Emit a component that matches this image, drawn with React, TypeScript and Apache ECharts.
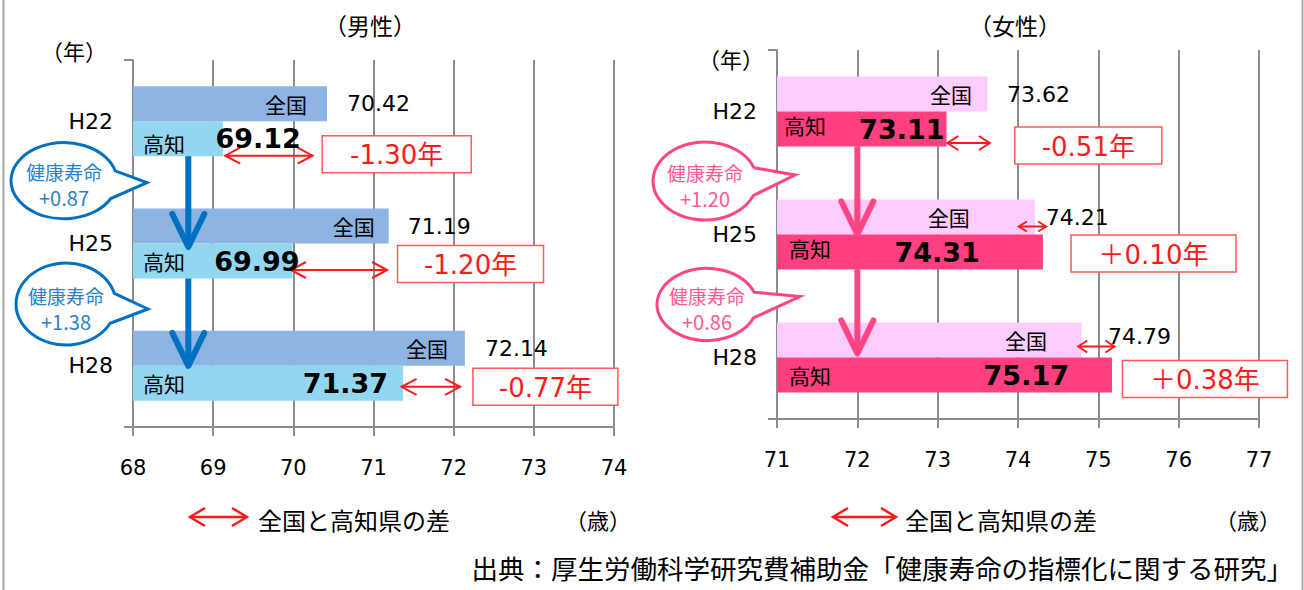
import React, { useEffect, useRef } from 'react';
import * as echarts from 'echarts';

// ---------- data ----------
const years = ['H22', 'H25', 'H28'];
const maleNational = [70.42, 71.19, 72.14];
const maleKochi = [69.12, 69.99, 71.37];
const femaleNational = [73.62, 74.21, 74.79];
const femaleKochi = [73.11, 74.31, 75.17];
const maleDiffLabels = ['-1.30年', '-1.20年', '-0.77年'];
const femaleDiffLabels = ['-0.51年', '＋0.10年', '＋0.38年'];
const maleGainLabels = ['+0.87', '+1.38'];
const femaleGainLabels = ['+1.20', '+0.86'];
const maleRange = [68, 74];
const femaleRange = [71, 77];

// ---------- styles ----------
const FONT_LATIN = "'DejaVu Sans', 'Noto Sans CJK JP', sans-serif";
const FONT_JP = "'Noto Sans CJK JP', sans-serif";
const GRID = '#8c8c8c';
const RED = '#ff1a1a';
const BOX = '#ff5a5a';

function bubblePath(rx: number, ry: number, tx: number, ty: number, a1d: number, a2d: number) {
  const a1 = (a1d * Math.PI) / 180;
  const a2 = (a2d * Math.PI) / 180;
  const p1 = [rx * Math.cos(a1), ry * Math.sin(a1)];
  const p2 = [rx * Math.cos(a2), ry * Math.sin(a2)];
  return `M${p1[0]} ${p1[1]} L${tx} ${ty} L${p2[0]} ${p2[1]} A${rx} ${ry} 0 1 1 ${p1[0]} ${p1[1]} Z`;
}

echarts.graphic.registerShape('bubbleM0', echarts.graphic.extendPath(bubblePath(53, 38, 83, 2, -15, 28), {}));
echarts.graphic.registerShape('bubbleM1', echarts.graphic.extendPath(bubblePath(50, 41, 82, 5, -15, 28), {}));
echarts.graphic.registerShape('bubbleF0', echarts.graphic.extendPath(bubblePath(52, 39, 90, -6, -20, 22), {}));
echarts.graphic.registerShape('bubbleF1', echarts.graphic.extendPath(bubblePath(50, 36, 93, -8, -20, 22), {}));

const panels = [
  {
    grid: 0,
    title: '（男性）',
    titleX: 370,
    titleY: 25,
    nenY: 50,
    nenX: 74,
    range: maleRange,
    national: maleNational,
    kochi: maleKochi,
    diffs: maleDiffLabels,
    gains: maleGainLabels,
    natColor: '#8eb4e3',
    kochiColor: '#93d6ef',
    arrowColor: '#0070c0',
    bubbleText: '#2a82cc',
    natLabelOffset: [-15, -9, -12],
    kochiLabelOffset: [[5, 4], [5, 0], [5, 0]],
    natValueGap: [20, 19, 20],
    natValueDy: [0, 0, 0],
    kochiValueRight: [78, 7, -15],
    boxLeft: [70.36, 71.3, 72.24],
    boxW: [149, 146, 145],
    boxDy: [33, 20.5, 21],
    diffArrow: [[69.15, 70.24], [69.97, 71.17], [71.35, 72.08]],
    diffDy: [34.5, 26.5, 21],
    diffHead: [[15, 8], [15, 8], [15, 8]],
    arrowX: 68.69,
    arrowTipDy: [3.5, 0],
    bubbles: ['bubbleM0', 'bubbleM1'],
    bubbleDx: [-69, -67],
    bubbleDy: [59.5, 60.5],
    legendX: [190, 247],
    legendTextX: 258,
    saiX: 598,
  },
  {
    grid: 1,
    title: '（女性）',
    titleX: 1015,
    titleY: 25,
    nenY: 58,
    nenX: 731,
    range: femaleRange,
    national: femaleNational,
    kochi: femaleKochi,
    diffs: femaleDiffLabels,
    gains: femaleGainLabels,
    natColor: '#ffccff',
    kochiColor: '#ff3f7f',
    arrowColor: '#ff4583',
    bubbleText: '#ff5a93',
    natLabelOffset: [-10.5, -60, -29.5],
    kochiLabelOffset: [[2, -4], [7, -4], [7, 0]],
    natValueGap: [19.5, 11, 26.5],
    natValueDy: [0, 0, -4],
    kochiValueRight: [-2, -63, -43],
    boxLeft: [73.96, 74.66, 75.3],
    boxW: [147, 165, 165],
    boxDy: [34, 19, 21.5],
    diffArrow: [[73.12, 73.65], [74.01, 74.35], [74.75, 75.2]],
    diffDy: [31.5, -8, -11],
    diffHead: [[11, 7], [8, 5], [9, 6]],
    arrowX: 72.0,
    arrowTipDy: [0, -4],
    bubbles: ['bubbleF0', 'bubbleF1'],
    bubbleDx: [-72, -70],
    bubbleDy: [69.5, 70],
    legendX: [833, 896],
    legendTextX: 905,
    saiX: 1248,
  },
];

const gridRects = [
  { left: 133, top: 60, width: 481, height: 367 },
  { left: 777, top: 50, width: 482, height: 369 },
];

function dblArrow(x1: number, x2: number, y: number, hl: number, hh: number, color: string, lw: number) {
  const st = { stroke: color, lineWidth: lw, fill: 'none' };
  return [
    { type: 'line', z: 120, shape: { x1, y1: y, x2, y2: y }, style: { stroke: color, lineWidth: lw } },
    { type: 'polyline', z: 120, shape: { points: [[x1 + hl, y - hh], [x1, y], [x1 + hl, y + hh]] }, style: st },
    { type: 'polyline', z: 120, shape: { points: [[x2 - hl, y - hh], [x2, y], [x2 - hl, y + hh]] }, style: st },
  ];
}

function txt(x: number, y: number, text: string, opts: any = {}) {
  return {
    type: 'text',
    z: 130,
    x,
    y,
    style: {
      text,
      fontSize: opts.fontSize ?? 22,
      fontFamily: opts.fontFamily ?? FONT_JP,
      fontWeight: opts.fontWeight ?? 'normal',
      fill: opts.fill ?? '#000',
      textAlign: opts.align ?? 'left',
      textVerticalAlign: 'middle',
      lineHeight: opts.lineHeight,
    },
  };
}

function buildOption() {
  const xAxis: any[] = [];
  const yAxis: any[] = [];
  const series: any[] = [];
  panels.forEach((p) => {
    xAxis.push({
      type: 'value',
      gridIndex: p.grid,
      min: p.range[0],
      max: p.range[1],
      interval: 1,
      axisLine: { show: true, onZero: false, lineStyle: { color: GRID, width: 2 } },
      axisTick: { show: true, length: 9, lineStyle: { color: GRID, width: 2 } },
      splitLine: { show: true, lineStyle: { color: GRID, width: 2 } },
      axisLabel: { fontSize: 21, margin: 30, color: '#000', fontFamily: FONT_LATIN },
    });
    yAxis.push({
      type: 'category',
      gridIndex: p.grid,
      data: years,
      inverse: true,
      axisLine: { show: true, lineStyle: { color: GRID, width: 2 } },
      axisTick: { show: false },
      splitLine: { show: false },
      axisLabel: { fontSize: 22, margin: 20, color: '#000', fontFamily: FONT_LATIN },
    });
    series.push({
      type: 'bar',
      name: '全国',
      xAxisIndex: p.grid,
      yAxisIndex: p.grid,
      barWidth: 35,
      barGap: '0%',
      silent: true,
      itemStyle: { color: p.natColor },
      label: {
        show: true,
        position: 'insideRight',
        formatter: '全国',
        fontSize: 21,
        fontFamily: FONT_JP,
        color: '#000',
      },
      data: p.national.map((v, i) => ({ value: v, label: { offset: [p.natLabelOffset[i], 0] } })),
    });
    series.push({
      type: 'bar',
      name: '高知',
      xAxisIndex: p.grid,
      yAxisIndex: p.grid,
      barWidth: 35,
      barGap: '0%',
      silent: true,
      itemStyle: { color: p.kochiColor },
      label: {
        show: true,
        position: 'insideLeft',
        formatter: '高知',
        fontSize: 21,
        fontFamily: FONT_JP,
        color: '#000',
      },
      data: p.kochi.map((v, i) => ({ value: v, label: { offset: p.kochiLabelOffset[i] } })),
    });
  });
  return {
    animation: false,
    backgroundColor: '#ffffff',
    grid: gridRects.map((g) => ({ ...g, containLabel: false })),
    xAxis,
    yAxis,
    series,
  };
}

function buildGraphics(chart: any) {
  const els: any[] = [];
  // outer border lines
  els.push({ type: 'line', z: 100, shape: { x1: 3.5, y1: 0, x2: 3.5, y2: 590 }, style: { stroke: '#a8a8a8', lineWidth: 2 } });
  els.push({ type: 'line', z: 100, shape: { x1: 1302.5, y1: 0, x2: 1302.5, y2: 590 }, style: { stroke: '#a8a8a8', lineWidth: 2 } });

  panels.forEach((p) => {
    const P = (v: number, c: number) => chart.convertToPixel({ gridIndex: p.grid }, [v, c]) as number[];
    const cy = years.map((_, i) => P(p.range[0], i)[1]);
    const band = cy[1] - cy[0];
    const x0 = P(p.range[0], 0)[0];
    const top = cy[0] - band / 2;
    const bottom = cy[2] + band / 2;
    const half = 17.5;

    els.push({ type: 'line', z: 100, shape: { x1: x0 - 9, y1: top, x2: x0, y2: top }, style: { stroke: GRID, lineWidth: 2 } });
    els.push({ type: 'line', z: 100, shape: { x1: x0 - 9, y1: bottom, x2: x0, y2: bottom }, style: { stroke: GRID, lineWidth: 2 } });

    els.push(txt(p.titleX, p.titleY, p.title, { fontSize: 23, align: 'center' }));
    els.push(txt(p.nenX, p.nenY, '（年）', { fontSize: 22, align: 'center' }));

    years.forEach((_, i) => {
      const nat = P(p.national[i], i);
      els.push(
        txt(nat[0] + p.natValueGap[i], nat[1] - half + p.natValueDy[i], p.national[i].toFixed(2), {
          fontFamily: FONT_LATIN,
          fontSize: 22,
        })
      );
      const ko = P(p.kochi[i], i);
      els.push(
        txt(ko[0] + p.kochiValueRight[i], ko[1] + half, p.kochi[i].toFixed(2), {
          fontFamily: FONT_LATIN,
          fontSize: 27,
          fontWeight: 'bold',
          align: 'right',
        })
      );
      // difference arrow
      const ax1 = P(p.diffArrow[i][0], i)[0];
      const ax2 = P(p.diffArrow[i][1], i)[0];
      els.push(...dblArrow(ax1, ax2, cy[i] + p.diffDy[i], p.diffHead[i][0], p.diffHead[i][1], RED, 2));
      // difference box
      const bx = P(p.boxLeft[i], i)[0];
      const by = cy[i] + p.boxDy[i];
      els.push({
        type: 'rect',
        z: 110,
        shape: { x: bx, y: by - 18.5, width: p.boxW[i], height: 37 },
        style: { fill: '#fff', stroke: BOX, lineWidth: 1.5 },
      });
      els.push(txt(bx + p.boxW[i] / 2, by + 1, p.diffs[i], { fontFamily: FONT_LATIN, fontSize: 26, fill: RED, align: 'center' }));
    });

    // vertical arrows and bubbles
    [0, 1].forEach((i) => {
      const ax = P(p.arrowX, i)[0];
      const y1 = cy[i] + 2 * half;
      const y2 = cy[i + 1] + p.arrowTipDy[i];
      els.push({
        type: 'line',
        z: 115,
        shape: { x1: ax, y1, x2: ax, y2: y2 - 3 },
        style: { stroke: p.arrowColor, lineWidth: 6 },
      });
      els.push({
        type: 'polyline',
        z: 115,
        shape: { points: [[ax - 16, y2 - 33], [ax, y2], [ax + 16, y2 - 33]] },
        style: { stroke: p.arrowColor, lineWidth: 6, fill: 'none', lineCap: 'round', lineJoin: 'round' },
      });
      const bxc = x0 + p.bubbleDx[i];
      const byc = cy[i] + p.bubbleDy[i];
      els.push({
        type: p.bubbles[i],
        z: 118,
        x: bxc,
        y: byc,
        style: { fill: '#fff', stroke: p.arrowColor, lineWidth: 3 },
      });
      els.push(txt(bxc, byc - 9, '健康寿命', { fontSize: 19, fill: p.bubbleText, align: 'center' }));
      els.push(txt(bxc, byc + 17, p.gains[i], { fontSize: 20, fill: p.bubbleText, align: 'center' }));
    });

    // legend
    els.push(...dblArrow(p.legendX[0], p.legendX[1], 517, 15, 9, RED, 2.5));
    els.push(txt(p.legendTextX, 519, '全国と高知県の差', { fontSize: 24 }));
    els.push(txt(p.saiX, 519, '（歳）', { fontSize: 22, align: 'center' }));
  });

  els.push(txt(1293, 567, '出典：厚生労働科学研究費補助金「健康寿命の指標化に関する研究」', { fontSize: 26.5, align: 'right' }));
  return els;
}

export default function App() {
  const ref = useRef<HTMLDivElement>(null);
  useEffect(() => {
    if (!ref.current) return;
    const chart = echarts.init(ref.current, undefined, { renderer: 'svg' });
    chart.setOption(buildOption() as any);
    chart.setOption({ graphic: { elements: buildGraphics(chart) } } as any);
    return () => chart.dispose();
  }, []);
  return (
    <div
      ref={ref}
      style={{ position: 'absolute', left: 0, top: 0, width: 1304, height: 590, background: '#fff' }}
    />
  );
}
